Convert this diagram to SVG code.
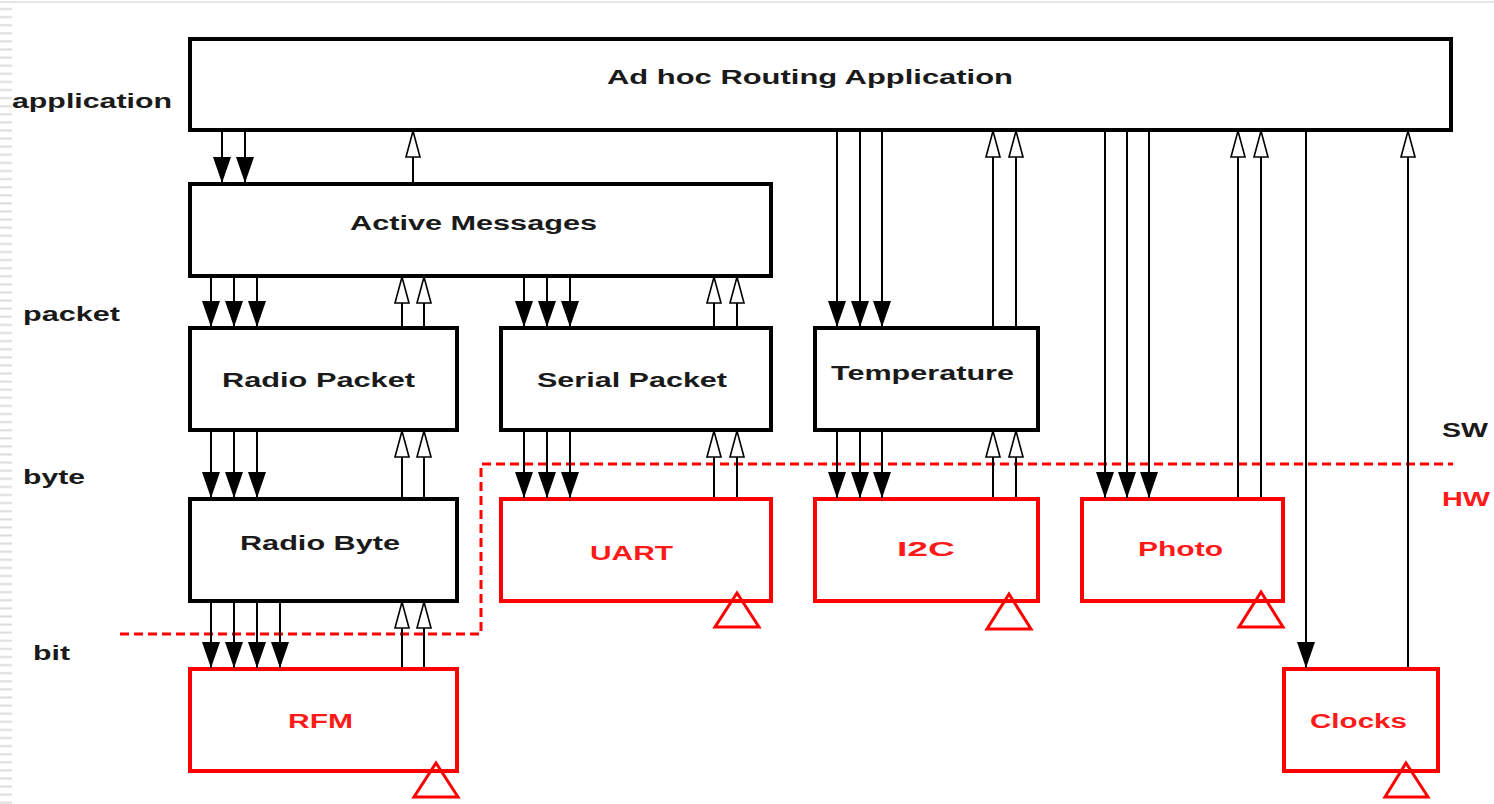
<svg xmlns="http://www.w3.org/2000/svg" width="1494" height="804" viewBox="0 0 1494 804">
<defs>
<style>
text{font-family:"Liberation Sans",Arial,sans-serif;font-weight:bold;font-size:20px}
.lbl{fill:#1a1a1a}
.red{fill:#ff1a1a}
.sw{fill:#fff;stroke:#000;stroke-width:4}
.hw{fill:#fff;stroke:#ff0000;stroke-width:4}
.tri{fill:none;stroke:#ff0000;stroke-width:3}
.dn{stroke:#000;stroke-width:2;fill:none;marker-end:url(#filled)}
.up{stroke:#000;stroke-width:2;fill:none;marker-end:url(#hollow)}
.split{fill:none;stroke:#ff0000;stroke-width:3;stroke-dasharray:9 5}
</style>
<marker id="filled" viewBox="0 -10 26 20" refX="26" refY="0" markerWidth="26" markerHeight="20" markerUnits="userSpaceOnUse" orient="auto">
<path d="M0,-9 L26,0 L0,9 Z" fill="#000"/>
</marker>
<marker id="hollow" viewBox="-1 -9 28 18" refX="26" refY="0" markerWidth="28" markerHeight="18" markerUnits="userSpaceOnUse" orient="auto">
<path d="M0,-7 L26,0 L0,7 Z" fill="#fff" stroke="#000" stroke-width="1.6"/>
</marker>
<pattern id="stripes" x="0" y="5" width="12" height="8.1" patternUnits="userSpaceOnUse">
<rect x="0" y="3" width="12" height="2" fill="#dcdcdc"/>
</pattern>
</defs>
<rect width="1494" height="804" fill="#fff"/>
<rect x="0" y="1" width="1494" height="2" fill="#e6e6e6"/>
<rect x="0" y="5" width="12" height="799" fill="url(#stripes)"/>

<g id="layer-labels">
<text class="lbl" x="12" y="108" textLength="160" lengthAdjust="spacingAndGlyphs">application</text>
<text class="lbl" x="23" y="321" textLength="97" lengthAdjust="spacingAndGlyphs">packet</text>
<text class="lbl" x="23" y="484" textLength="62" lengthAdjust="spacingAndGlyphs">byte</text>
<text class="lbl" x="33" y="660" textLength="37" lengthAdjust="spacingAndGlyphs">bit</text>
<text class="lbl" x="1442" y="437" textLength="46" lengthAdjust="spacingAndGlyphs">SW</text>
<text class="red" x="1442" y="506" textLength="48" lengthAdjust="spacingAndGlyphs">HW</text>
</g>

<path id="sw-hw-boundary" class="split" d="M120,634 H481 V464 H1453"/>

<g id="app">
<rect class="sw" x="190" y="39" width="1261" height="91"/>
<text class="lbl" x="607" y="84" textLength="406" lengthAdjust="spacingAndGlyphs">Ad hoc Routing Application</text>
</g>
<g id="active-messages">
<rect class="sw" x="190" y="184" width="581" height="92"/>
<text class="lbl" x="350" y="230" textLength="247" lengthAdjust="spacingAndGlyphs">Active Messages</text>
</g>
<g id="radio-packet">
<rect class="sw" x="190" y="328" width="267" height="102"/>
<text class="lbl" x="222" y="387" textLength="193" lengthAdjust="spacingAndGlyphs">Radio Packet</text>
</g>
<g id="serial-packet">
<rect class="sw" x="501" y="328" width="270" height="102"/>
<text class="lbl" x="537" y="387" textLength="190" lengthAdjust="spacingAndGlyphs">Serial Packet</text>
</g>
<g id="temperature">
<rect class="sw" x="815" y="328" width="223" height="102"/>
<text class="lbl" x="831" y="380" textLength="183" lengthAdjust="spacingAndGlyphs">Temperature</text>
</g>
<g id="radio-byte">
<rect class="sw" x="190" y="499" width="267" height="102"/>
<text class="lbl" x="240" y="550" textLength="160" lengthAdjust="spacingAndGlyphs">Radio Byte</text>
</g>
<g id="uart">
<rect class="hw" x="501" y="499" width="270" height="102"/>
<text class="red" x="590" y="560" textLength="83" lengthAdjust="spacingAndGlyphs">UART</text>
<path class="tri" d="M737,593 L759,627 H715 Z"/>
</g>
<g id="i2c">
<rect class="hw" x="815" y="499" width="223" height="102"/>
<text class="red" x="897" y="556" textLength="58" lengthAdjust="spacingAndGlyphs">I2C</text>
<path class="tri" d="M1009,594 L1031,629 H987 Z"/>
</g>
<g id="photo">
<rect class="hw" x="1082" y="499" width="201" height="102"/>
<text class="red" x="1138" y="556" textLength="85" lengthAdjust="spacingAndGlyphs">Photo</text>
<path class="tri" d="M1261,592 L1283,627 H1239 Z"/>
</g>
<g id="rfm">
<rect class="hw" x="190" y="669" width="267" height="102"/>
<text class="red" x="288" y="728" textLength="65" lengthAdjust="spacingAndGlyphs">RFM</text>
<path class="tri" d="M436,763 L458,797 H414 Z"/>
</g>
<g id="clocks">
<rect class="hw" x="1284" y="669" width="154" height="102"/>
<text class="red" x="1310" y="728" textLength="97" lengthAdjust="spacingAndGlyphs">Clocks</text>
<path class="tri" d="M1406,763 L1428,797 H1385 Z"/>
</g>

<g id="connectors">
<!-- app -> active messages -->
<line class="dn" x1="222" y1="132" x2="222" y2="183"/>
<line class="dn" x1="245" y1="132" x2="245" y2="183"/>
<line class="up" x1="413" y1="182" x2="413" y2="131"/>
<!-- active messages -> radio packet -->
<line class="dn" x1="211" y1="278" x2="211" y2="327"/>
<line class="dn" x1="234" y1="278" x2="234" y2="327"/>
<line class="dn" x1="257" y1="278" x2="257" y2="327"/>
<line class="up" x1="402" y1="326" x2="402" y2="277"/>
<line class="up" x1="424" y1="326" x2="424" y2="277"/>
<!-- active messages -> serial packet -->
<line class="dn" x1="524" y1="278" x2="524" y2="327"/>
<line class="dn" x1="547" y1="278" x2="547" y2="327"/>
<line class="dn" x1="570" y1="278" x2="570" y2="327"/>
<line class="up" x1="714" y1="326" x2="714" y2="277"/>
<line class="up" x1="737" y1="326" x2="737" y2="277"/>
<!-- app -> temperature -->
<line class="dn" x1="837" y1="132" x2="837" y2="327"/>
<line class="dn" x1="860" y1="132" x2="860" y2="327"/>
<line class="dn" x1="882" y1="132" x2="882" y2="327"/>
<line class="up" x1="993" y1="326" x2="993" y2="131"/>
<line class="up" x1="1016" y1="326" x2="1016" y2="131"/>
<!-- app -> photo -->
<line class="dn" x1="1105" y1="132" x2="1105" y2="498"/>
<line class="dn" x1="1127" y1="132" x2="1127" y2="498"/>
<line class="dn" x1="1149" y1="132" x2="1149" y2="498"/>
<line class="up" x1="1238" y1="497" x2="1238" y2="131"/>
<line class="up" x1="1261" y1="497" x2="1261" y2="131"/>
<!-- app -> clocks -->
<line class="dn" x1="1306" y1="132" x2="1306" y2="668"/>
<line class="up" x1="1408" y1="667" x2="1408" y2="131"/>
<!-- radio packet -> radio byte -->
<line class="dn" x1="211" y1="432" x2="211" y2="498"/>
<line class="dn" x1="234" y1="432" x2="234" y2="498"/>
<line class="dn" x1="257" y1="432" x2="257" y2="498"/>
<line class="up" x1="402" y1="497" x2="402" y2="431"/>
<line class="up" x1="424" y1="497" x2="424" y2="431"/>
<!-- serial packet -> uart -->
<line class="dn" x1="524" y1="432" x2="524" y2="498"/>
<line class="dn" x1="547" y1="432" x2="547" y2="498"/>
<line class="dn" x1="570" y1="432" x2="570" y2="498"/>
<line class="up" x1="714" y1="497" x2="714" y2="431"/>
<line class="up" x1="737" y1="497" x2="737" y2="431"/>
<!-- temperature -> i2c -->
<line class="dn" x1="837" y1="432" x2="837" y2="498"/>
<line class="dn" x1="860" y1="432" x2="860" y2="498"/>
<line class="dn" x1="882" y1="432" x2="882" y2="498"/>
<line class="up" x1="993" y1="497" x2="993" y2="431"/>
<line class="up" x1="1016" y1="497" x2="1016" y2="431"/>
<!-- radio byte -> rfm -->
<line class="dn" x1="211" y1="603" x2="211" y2="668"/>
<line class="dn" x1="234" y1="603" x2="234" y2="668"/>
<line class="dn" x1="257" y1="603" x2="257" y2="668"/>
<line class="dn" x1="280" y1="603" x2="280" y2="668"/>
<line class="up" x1="402" y1="667" x2="402" y2="602"/>
<line class="up" x1="424" y1="667" x2="424" y2="602"/>
</g>
</svg>
